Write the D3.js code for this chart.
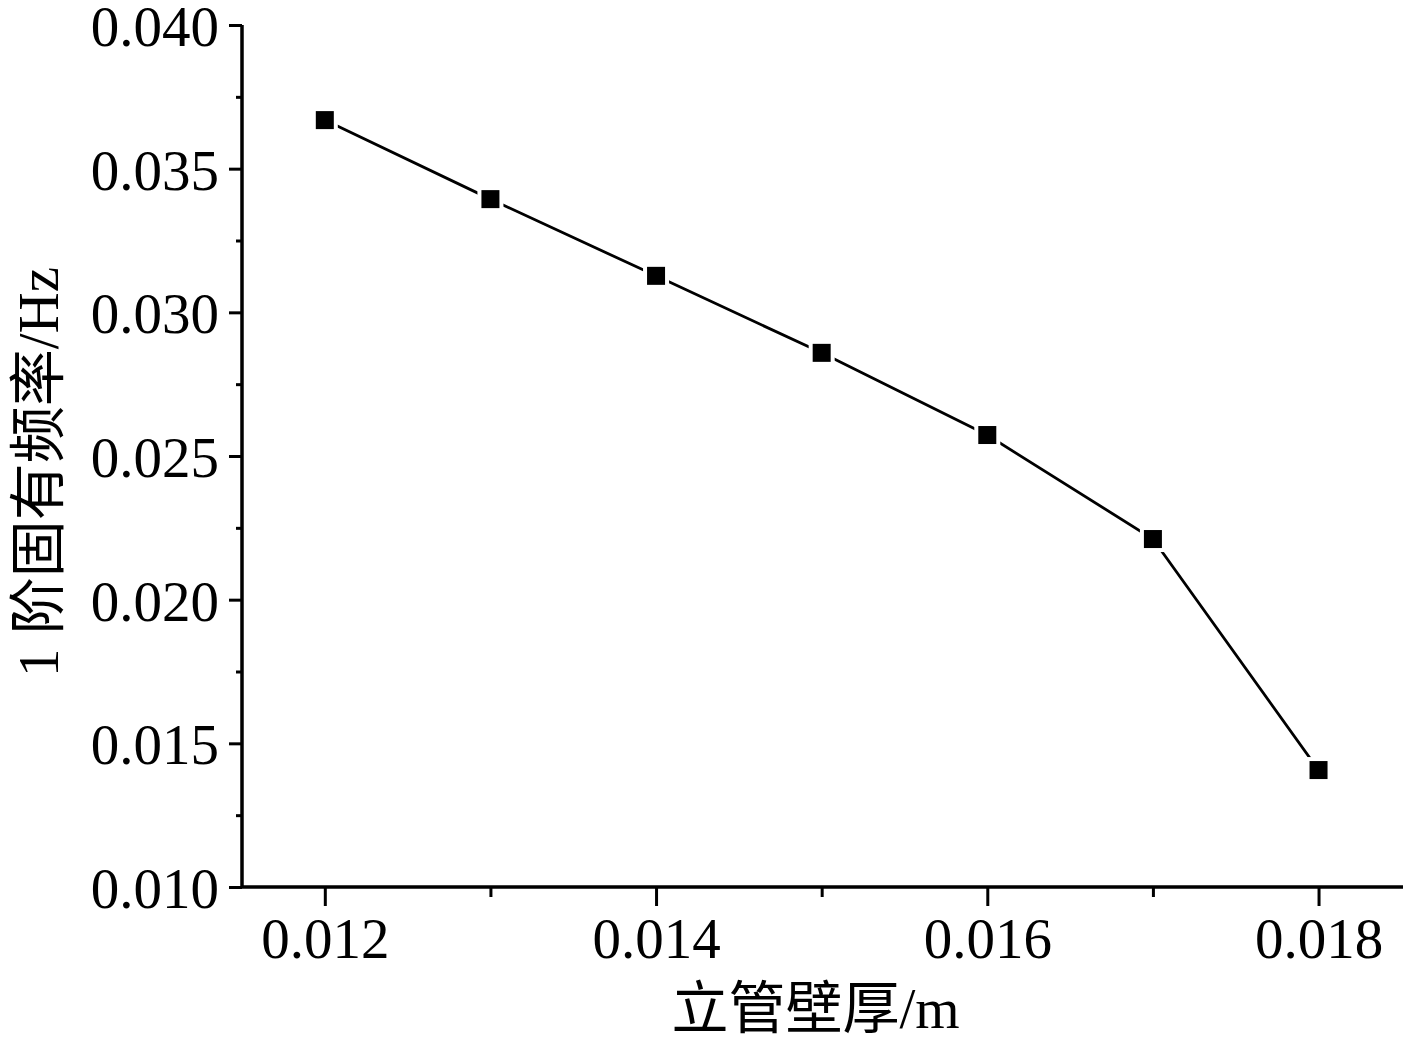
<!DOCTYPE html>
<html>
<head>
<meta charset="utf-8">
<script src="https://cdn.jsdelivr.net/npm/d3@7"></script>
<style>
  html, body { margin: 0; padding: 0; background: #fff; }
  svg { display: block; }
  text { font-family: "Liberation Serif", "Times New Roman", "Noto Sans CJK SC", serif; fill: #000; }
</style>
</head>
<body>
<div id="chart"></div>
<script>
const thickness = [0.012, 0.013, 0.014, 0.015, 0.016, 0.017, 0.018];
const frequency = [0.03669, 0.03394, 0.03127, 0.02859, 0.02573, 0.02211, 0.01407];
const xTicks = [0.012, 0.014, 0.016, 0.018];
const yTicks = [0.010, 0.015, 0.020, 0.025, 0.030, 0.035, 0.040];
const xLabel = "立管壁厚/m";
const yLabel = "1 阶固有频率/Hz";

const width = 1417, height = 1039;
const margin = { top: 25, right: 14, bottom: 152, left: 242 };
const xMin = 0.0115, xMax = 0.01851;

const svg = d3.select("#chart").append("svg")
  .attr("width", width)
  .attr("height", height)
  .attr("viewBox", `0 0 ${width} ${height}`);

const x = d3.scaleLinear()
  .domain([xMin, xMax])
  .range([margin.left, width - margin.right]);

const y = d3.scaleLinear()
  .domain([0.010, 0.040])
  .range([height - margin.bottom, margin.top]);

const fontSize = 57;

// minor ticks first, majors on top
const xMinor = d3.range(0.012, 0.0181, 0.001).map(v => +v.toFixed(4)).filter(v => !xTicks.includes(v));
const yMinor = d3.range(0.0125, 0.040, 0.005).map(v => +v.toFixed(4));

const xAxisMinor = svg.append("g")
  .attr("transform", `translate(0,${y(0.010)})`)
  .call(d3.axisBottom(x).tickValues(xMinor).tickSize(10).tickFormat(""));
const yAxisMinor = svg.append("g")
  .attr("transform", `translate(${x(xMin)},0)`)
  .call(d3.axisLeft(y).tickValues(yMinor).tickSize(6).tickFormat(""));

const xAxis = svg.append("g")
  .attr("transform", `translate(0,${y(0.010)})`)
  .call(d3.axisBottom(x).tickValues(xTicks).tickSize(19).tickPadding(12).tickFormat(d3.format(".3f")));
const yAxis = svg.append("g")
  .attr("transform", `translate(${x(xMin)},0)`)
  .call(d3.axisLeft(y).tickValues(yTicks).tickSize(13).tickPadding(10).tickFormat(d3.format(".3f")));

[xAxisMinor, yAxisMinor, xAxis, yAxis].forEach(g => {
  g.selectAll(".domain").attr("stroke", "#000").attr("stroke-width", 3);
  g.selectAll(".tick line").attr("stroke", "#000").attr("stroke-width", 3);
  g.selectAll(".tick text").attr("font-size", fontSize)
    .attr("font-family", "'Liberation Serif', 'Times New Roman', serif");
});
xAxisMinor.select(".domain").attr("d", `M${x(xMin)},0H${x(xMax)}`);
xAxis.select(".domain").attr("d", `M${x(xMin)},0H${x(xMax)}`);
yAxisMinor.select(".domain").attr("d", `M0,${y(0.010)}V${y(0.040)}`);
yAxis.select(".domain").attr("d", `M0,${y(0.010)}V${y(0.040)}`);
yAxis.selectAll(".tick text").attr("dy", "0.36em");

// data line
const pts = thickness.map((t, i) => ({ t, f: frequency[i] }));
svg.append("path")
  .datum(pts)
  .attr("fill", "none")
  .attr("stroke", "#000")
  .attr("stroke-width", 2.8)
  .attr("d", d3.line().x(d => x(d.t)).y(d => y(d.f)));

const m = 18;
// white halo leaves the small gap around each marker
svg.append("g").selectAll("rect.halo")
  .data(pts)
  .join("rect")
  .attr("x", d => x(d.t) - m / 2 - 4)
  .attr("y", d => y(d.f) - m / 2 - 4)
  .attr("width", m + 8)
  .attr("height", m + 8)
  .attr("fill", "#fff");
svg.append("g").selectAll("rect.mark")
  .data(pts)
  .join("rect")
  .attr("x", d => x(d.t) - m / 2)
  .attr("y", d => y(d.f) - m / 2)
  .attr("width", m)
  .attr("height", m)
  .attr("fill", "#000");

// axis titles
svg.append("text")
  .attr("x", (x(xMin) + x(xMax)) / 2 - 7)
  .attr("y", 1028)
  .attr("text-anchor", "middle")
  .attr("font-size", fontSize)
  .text(xLabel);

svg.append("text")
  .attr("transform", `translate(58,${472}) rotate(-90)`)
  .attr("text-anchor", "middle")
  .attr("font-size", fontSize)
  .text(yLabel);
</script>
</body>
</html>
